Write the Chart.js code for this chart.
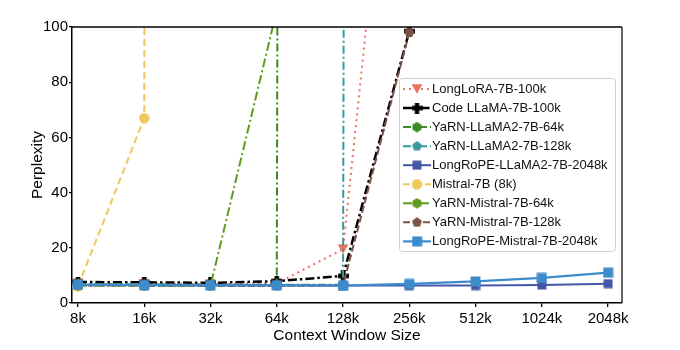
<!DOCTYPE html>
<html>
<head>
<meta charset="utf-8">
<script src="https://cdn.jsdelivr.net/npm/chart.js@4.4.1/dist/chart.umd.min.js"></script>
<style>
html, body { margin: 0; padding: 0; background: #fff; }
</style>
</head>
<body>
<canvas id="chart" width="680" height="350"></canvas>
<script>
// context lengths on the x axis
const contexts = ['8k', '16k', '32k', '64k', '128k', '256k', '512k', '1024k', '2048k'];

// perplexity per model (null = not evaluated, very large = diverged)
const longLora = [7.2, 7.0, 6.9, 7.1, 19.5, 250, null, null, null];
const codeLlama = [7.6, 7.5, 7.3, 7.9, 9.8, 98.5, null, null, null];
const yarnLlama64k = [6.8, 6.6, 6.5, 6.6, 10000, null, null, null, null];
const yarnLlama128k = [6.9, 6.7, 6.6, 6.6, 6.6, 10000, null, null, null];
const longRopeLlama = [6.6, 6.5, 6.4, 6.4, 6.3, 6.3, 6.3, 6.5, 7.0];
const mistral = [6.0, 67, 10000, null, null, null, null, null, null];
const yarnMistral64k = [6.3, 6.2, 6.3, 106, null, null, null, null, null];
const yarnMistral128k = [6.4, 6.3, 6.2, 6.2, 6.4, 98, null, null, null];
const longRopeMistral = [6.6, 6.5, 6.4, 6.4, 6.3, 6.9, 7.8, 9.1, 11.0];

const yTicks = [0, 20, 40, 60, 80, 100];

const FONT = '"Liberation Sans", Arial, Helvetica, sans-serif';

// small canvases used as point markers
function marker(shape, color, size) {
    const c = document.createElement('canvas');
    c.width = c.height = size;
    const g = c.getContext('2d');
    const m = size / 2, r = size / 2 - 0.3;
    g.fillStyle = color;
    g.beginPath();
    if (shape === 'circle') {
        g.arc(m, m, r, 0, Math.PI * 2);
    } else if (shape === 'square') {
        g.rect(0.5, 0.5, size - 1, size - 1);
    } else if (shape === 'plus') {
        const t = size * 0.2;
        g.rect(m - t, 0, 2 * t, size);
        g.rect(0, m - t, size, 2 * t);
    } else {
        const n = shape === 'hex' ? 6 : shape === 'pent' ? 5 : 3;
        const rot = shape === 'tri' ? Math.PI / 2 : -Math.PI / 2;
        const rr = shape === 'tri' ? r * 1.1 : r;
        const cy = shape === 'tri' ? m - 1.5 : m;
        for (let i = 0; i < n; i++) {
            const a = rot + i * 2 * Math.PI / n;
            g.lineTo(m + rr * Math.cos(a), cy + rr * Math.sin(a));
        }
        g.closePath();
    }
    g.fill();
    return c;
}

function series(label, values, color, shape, size, dash, width) {
    return {
        label: label,
        data: values.map((v, i) => ({ x: i, y: v })),
        borderColor: color,
        backgroundColor: color,
        borderWidth: width,
        borderDash: dash,
        pointStyle: marker(shape, color, size),
        pointRadius: size / 2,
        pointHoverRadius: size / 2,
        spanGaps: false,
        tension: 0
    };
}

const datasets = [
    series('LongLoRA-7B-100k', longLora, '#e9735f', 'tri', 12, [2, 4], 2),
    series('Code LLaMA-7B-100k', codeLlama, '#000000', 'plus', 11, [9, 3, 2.5, 3], 2.5),
    series('YaRN-LLaMA2-7B-64k', yarnLlama64k, '#3b8a22', 'hex', 11, [8, 3, 2, 3], 2),
    series('YaRN-LLaMA2-7B-128k', yarnLlama128k, '#3a979c', 'pent', 11, [8, 3, 2, 3], 2),
    series('LongRoPE-LLaMA2-7B-2048k', longRopeLlama, '#4557a8', 'square', 10, [], 2),
    series('Mistral-7B (8k)', mistral, '#f0c75a', 'circle', 11, [7, 4], 2),
    series('YaRN-Mistral-7B-64k', yarnMistral64k, '#5f9b1c', 'hex', 11, [9, 3, 2, 3], 2),
    series('YaRN-Mistral-7B-128k', yarnMistral128k, '#7b5246', 'pent', 11, [7, 3], 2),
    series('LongRoPE-Mistral-7B-2048k', longRopeMistral, '#3d8bcb', 'square', 11, [], 2.2)
];
// later series sit on top, as in the original figure
datasets.forEach((d, i) => { d.order = datasets.length - i; });

const framePlugin = {
    id: 'frame',
    afterDatasetsDraw(chart) {
        const { ctx, chartArea: a } = chart;
        ctx.save();
        ctx.lineWidth = 1.5;
        ctx.strokeStyle = '#000';
        ctx.beginPath();
        ctx.moveTo(a.left, a.top);
        ctx.lineTo(a.right, a.top);
        ctx.stroke();
        ctx.strokeStyle = '#333';
        ctx.beginPath();
        ctx.moveTo(a.right, a.top);
        ctx.lineTo(a.right, a.bottom);
        ctx.stroke();
        ctx.restore();
    }
};

const boxLegend = {
    id: 'boxLegend',
    afterDraw(chart) {
        const ctx = chart.ctx;
        const x0 = 399, y0 = 78, w = 216, h = 173;
        ctx.save();
        ctx.fillStyle = 'rgba(255,255,255,0.85)';
        ctx.strokeStyle = '#cfcfcf';
        ctx.lineWidth = 1;
        ctx.beginPath();
        ctx.roundRect(x0 + 0.5, y0 + 0.5, w, h, 3);
        ctx.fill();
        ctx.stroke();
        ctx.font = '13px ' + FONT;
        ctx.textBaseline = 'middle';
        chart.data.datasets.forEach((d, i) => {
            const y = 89 + i * 19.05;
            ctx.strokeStyle = d.borderColor;
            ctx.lineWidth = d.borderWidth;
            ctx.setLineDash(d.borderDash);
            ctx.beginPath();
            ctx.moveTo(403, y);
            ctx.lineTo(431, y);
            ctx.stroke();
            ctx.setLineDash([]);
            const img = d.pointStyle;
            ctx.drawImage(img, 417 - img.width / 2, y - img.height / 2);
            ctx.fillStyle = '#111';
            ctx.fillText(d.label, 432, y + 0.5);
        });
        ctx.restore();
    }
};

new Chart(document.getElementById('chart'), {
    type: 'line',
    data: { datasets: datasets },
    options: {
        responsive: false,
        animation: false,
        layout: { padding: { left: 0, right: 58, top: 27, bottom: 0 } },
        plugins: {
            legend: { display: false },
            tooltip: { enabled: false }
        },
        scales: {
            x: {
                type: 'linear',
                min: -0.09,
                max: 8.21,
                afterFit(s) { s.height = 47; },
                afterBuildTicks(s) { s.ticks = contexts.map((c, i) => ({ value: i })); },
                ticks: {
                    color: '#000',
                    font: { family: FONT, size: 15 },
                    padding: 3,
                    maxRotation: 0,
                    autoSkip: false,
                    callback: (v) => contexts[v]
                },
                grid: { drawOnChartArea: false, drawTicks: true, tickLength: 4, color: '#000', lineWidth: 1.3 },
                border: { color: '#000', width: 1.5 },
                title: {
                    display: true,
                    text: 'Context Window Size',
                    color: '#000',
                    font: { family: FONT, size: 15.5 },
                    padding: { top: 0, bottom: 5 }
                }
            },
            y: {
                min: 0,
                max: 100,
                afterFit(s) { s.width = 72; },
                afterBuildTicks(s) { s.ticks = yTicks.map(v => ({ value: v })); },
                ticks: {
                    color: '#000',
                    font: { family: FONT, size: 15 },
                    padding: 1
                },
                grid: { drawOnChartArea: false, drawTicks: true, tickLength: 3, color: '#000', lineWidth: 1.3 },
                border: { color: '#000', width: 1.5 },
                title: {
                    display: true,
                    text: 'Perplexity',
                    color: '#000',
                    font: { family: FONT, size: 15.5 },
                    padding: { top: 28, bottom: 0 }
                }
            }
        }
    },
    plugins: [framePlugin, boxLegend]
});
</script>
</body>
</html>
